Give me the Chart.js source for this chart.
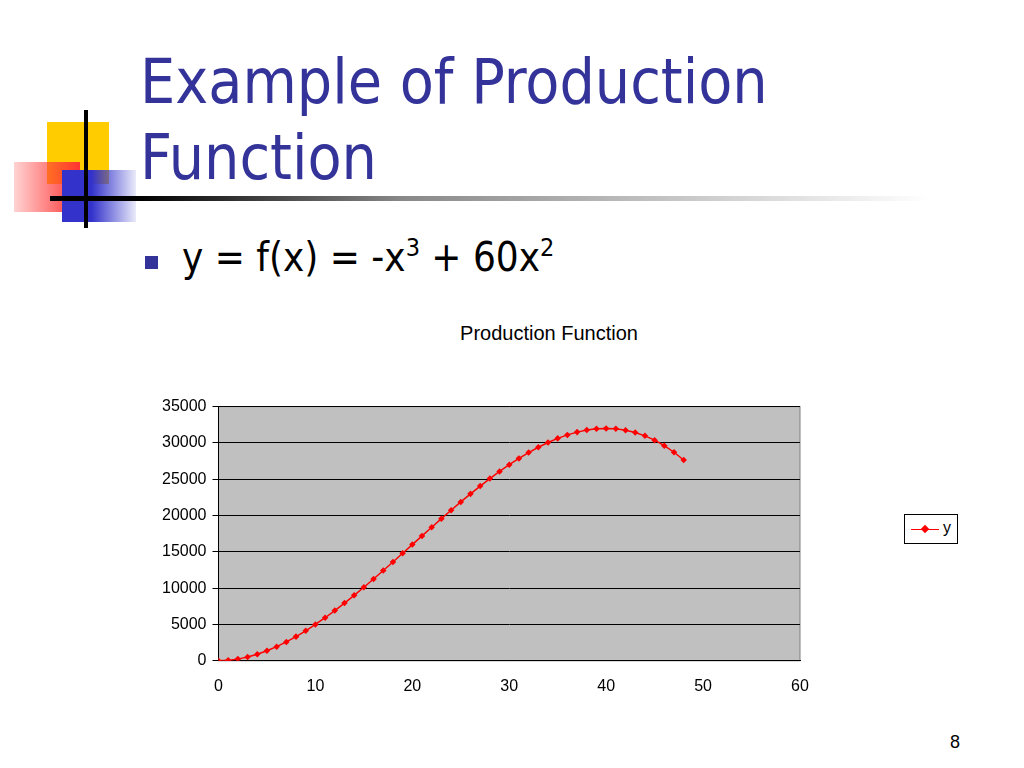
<!DOCTYPE html>
<html><head><meta charset="utf-8">
<script src="https://cdn.jsdelivr.net/npm/chart.js@4/dist/chart.umd.min.js"></script>
<style>
body{margin:0;width:1024px;height:768px;background:#fff;position:relative;overflow:hidden;font-family:"Liberation Sans",Arial,sans-serif}
.abs{position:absolute}
#title{left:140px;top:44px;color:#333399;font-family:"DejaVu Sans Condensed","DejaVu Sans",sans-serif;font-size:62px;line-height:76px}
#bullet{left:145px;top:256px;width:13px;height:13px;background:#333399}
#formula{left:182px;top:234px;font-size:40px;color:#000;font-family:"DejaVu Sans Condensed","DejaVu Sans",sans-serif}
#formula sup{font-size:25px;vertical-align:15px;line-height:0}
#ctitle{left:349px;top:322px;width:400px;text-align:center;font-size:20px}
#legend{left:904px;top:514px;width:52px;height:28px;border:1px solid #000;background:#fff;font-size:16px}
#page{left:950px;top:732px;font-size:18px}
</style></head><body>
<div class="abs" style="left:47px;top:122px;width:62px;height:62px;background:#ffcc00"></div>
<div class="abs" style="left:14px;top:162px;width:66px;height:50px;background:linear-gradient(90deg,rgba(255,80,80,0.25),#ff3333)"></div>
<div class="abs" style="left:62px;top:170px;width:74px;height:52px;background:linear-gradient(90deg,#3333cc 40%,rgba(51,51,204,0.1))"></div>
<div class="abs" style="left:84px;top:110px;width:4px;height:118px;background:#000"></div>
<div class="abs" style="left:50px;top:196px;width:880px;height:5px;background:linear-gradient(90deg,#000 10%,#888 40%,rgba(255,255,255,0) 100%)"></div>
<div id="title" class="abs">Example of Production<br>Function</div>
<div id="bullet" class="abs"></div>
<div id="formula" class="abs">y = f(x) = -x<sup>3</sup> + 60x<sup>2</sup></div>
<div id="ctitle" class="abs">Production Function</div>
<div class="abs" style="left:156px;top:391px;width:814px;height:313px"><canvas id="c"></canvas></div>
<div id="legend" class="abs"><div class="abs" style="left:6px;top:14px;width:28px;height:1px;background:#ff0000"></div><div class="abs" style="left:17px;top:11px;width:6px;height:6px;background:#ff0000;transform:rotate(45deg)"></div><div class="abs" style="left:38px;top:4px">y</div></div>
<div id="page" class="abs">8</div>
<script>
const xValues = [0,1,2,3,4,5,6,7,8,9,10,11,12,13,14,15,16,17,18,19,20,21,22,23,24,25,26,27,28,29,30,31,32,33,34,35,36,37,38,39,40,41,42,43,44,45,46,47,48];
const yValues = [0,59,232,513,896,1375,1944,2597,3328,4131,5000,5929,6912,7943,9016,10125,11264,12427,13608,14801,16000,17199,18392,19573,20736,21875,22984,24057,25088,26071,27000,27869,28672,29403,30056,30625,31104,31487,31768,31941,32000,31939,31752,31433,30976,30375,29624,28717,27648];

const plotBg = {
  id: "plotBg",
  beforeDraw(chart) {
    const { ctx, chartArea: a } = chart;
    ctx.save();
    ctx.fillStyle = "#c0c0c0";
    ctx.fillRect(a.left, a.top, a.right - a.left, a.bottom - a.top);
    ctx.strokeStyle = "#808080";
    ctx.strokeRect(a.left, a.top, a.right - a.left, a.bottom - a.top);
    ctx.restore();
  }
};

new Chart(document.getElementById("c"), {
  type: "scatter",
  data: {
    datasets: [{
      label: "y",
      data: xValues.map((x, i) => ({ x, y: yValues[i] })),
      showLine: true,
      borderColor: "#ff0000",
      backgroundColor: "#ff0000",
      borderWidth: 1.5,
      pointStyle: "rectRot",
      pointRadius: 2.2
    }]
  },
  plugins: [plotBg],
  options: {
    responsive: true,
    maintainAspectRatio: false,
    animation: false,
    layout: { padding: { left: 0, right: 170, top: 0, bottom: 0 } },
    plugins: {
      legend: { display: false },
      tooltip: { enabled: false }
    },
    scales: {
      x: {
        type: "linear", min: 0, max: 60,
        ticks: { stepSize: 10, color: "#000", font: { size: 16, family: "Liberation Sans" }, padding: 8 },
        grid: { display: false, drawOnChartArea: false },
        border: { color: "#000" }
      },
      y: {
        min: 0, max: 35000,
        ticks: { stepSize: 5000, color: "#000", font: { size: 16, family: "Liberation Sans" }, padding: 6, callback: v => String(v) },
        grid: { color: "#000", tickLength: 6, tickColor: "#000" },
        border: { color: "#000" }
      }
    }
  }
});
</script>
</body></html>
